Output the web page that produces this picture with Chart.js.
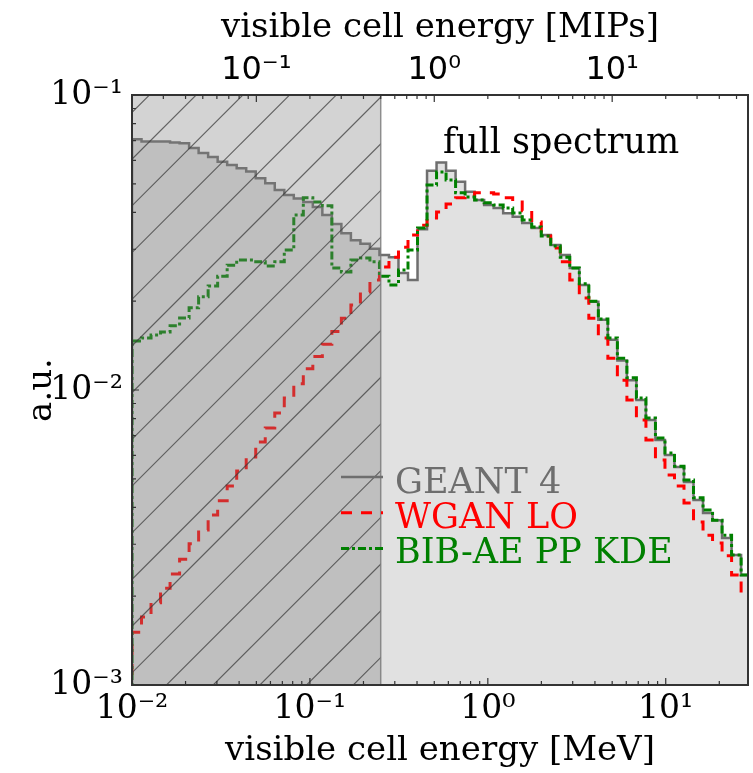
<!DOCTYPE html>
<html>
<head>
<meta charset="utf-8">
<script src="https://cdn.jsdelivr.net/npm/chart.js@4.4.1/dist/chart.umd.min.js"></script>
<style>
  html, body { margin: 0; padding: 0; background: #fff; }
</style>
</head>
<body>
<canvas id="chart" width="753" height="773"></canvas>
<script>
// log-spaced histogram binning in MeV
const binMin = 0.01, binMax = 30, nBins = 65;
const mevPerMip = 0.5;
const cutMeV = 0.25; // hatched region below 0.5 MIP

// bin contents (a.u.), one per bin
const geant4 = [
  0.0708, 0.0695, 0.0695, 0.0695, 0.0690, 0.0686, 0.0661, 0.0636, 0.0616, 0.0594,
  0.0579, 0.0565, 0.0550, 0.0522, 0.0502, 0.0476, 0.0458, 0.0446, 0.0434, 0.0417,
  0.0392, 0.0365, 0.0340, 0.0322, 0.0313, 0.0301, 0.0287, 0.0282, 0.0249, 0.0236,
  0.0351, 0.0554, 0.0590, 0.0554, 0.0508, 0.0470, 0.0441, 0.0424, 0.0414, 0.0397,
  0.0387, 0.0368, 0.0354, 0.0335, 0.0310, 0.0287, 0.0259, 0.0227, 0.0199, 0.0173,
  0.0148, 0.0126, 0.0108, 0.00925, 0.00791, 0.00677, 0.00602, 0.00548, 0.00488, 0.00424,
  0.00383, 0.00362, 0.00315, 0.00276, 0.00236
];
const wganLO = [
  0.00151, 0.00170, 0.00190, 0.00213, 0.00238, 0.00267, 0.00301, 0.00335, 0.00377, 0.00421,
  0.00473, 0.00531, 0.00593, 0.00667, 0.00743, 0.00836, 0.00940, 0.0105, 0.0118, 0.0130,
  0.0143, 0.0158, 0.0175, 0.0194, 0.0215, 0.0236, 0.0261, 0.0282, 0.0305, 0.0335,
  0.0362, 0.0383, 0.0401, 0.0427, 0.0448, 0.0455, 0.0466, 0.0466, 0.0462, 0.0448,
  0.0434, 0.0405, 0.0371, 0.0333, 0.0303, 0.0272, 0.0236, 0.0205, 0.0175, 0.0150,
  0.0128, 0.0108, 0.00925, 0.00791, 0.00677, 0.00579, 0.00515, 0.00473, 0.00414, 0.00357,
  0.00322, 0.00303, 0.00274, 0.00236, 0.00202
];
const bibaeKDE = [
  0.01466, 0.0150, 0.01535, 0.01574, 0.0165, 0.01754, 0.0190, 0.0207, 0.0225, 0.0243,
  0.0265, 0.0276, 0.0276, 0.0272, 0.0263, 0.0272, 0.0298, 0.0392, 0.0448, 0.0434,
  0.0421, 0.0259, 0.0251, 0.0276, 0.0280, 0.0272, 0.0243, 0.0227, 0.0255, 0.0298,
  0.0354, 0.0495, 0.0548, 0.0515, 0.0466, 0.0451, 0.0441, 0.0431, 0.0424, 0.0414,
  0.0398, 0.0377, 0.0357, 0.0333, 0.0308, 0.0282, 0.0259, 0.0229, 0.0200, 0.0174,
  0.0150, 0.0128, 0.0110, 0.00940, 0.00804, 0.00687, 0.00611, 0.00552, 0.00495, 0.00431,
  0.00392, 0.00362, 0.00322, 0.00276, 0.00236
];

const yDecades = [1e-3, 1e-2, 1e-1];
const yTickLabels = ['10⁻³', '10⁻²', '10⁻¹'];
const xDecades = [0.01, 0.1, 1, 10];
const xTickLabels = ['10⁻²', '10⁻¹', '10⁰', '10¹'];
const mipDecades = [0.1, 1, 10];
const mipTickLabels = ['10⁻¹', '10⁰', '10¹'];

const edges = [];
for (let i = 0; i <= nBins; i++) {
  edges.push(binMin * Math.pow(binMax / binMin, i / nBins));
}

// step outline like histtype='step'
function stepPoints(vals) {
  const floor = 1e-5;
  const pts = [{ x: edges[0], y: floor }];
  vals.forEach((v, i) => pts.push({ x: edges[i], y: v }));
  pts.push({ x: edges[vals.length], y: vals[vals.length - 1] });
  pts.push({ x: edges[vals.length], y: floor });
  return pts;
}

function labelFor(decades, labels) {
  return (v) => {
    const i = decades.findIndex((d) => Math.abs(v / d - 1) < 1e-6);
    return i < 0 ? '' : labels[i];
  };
}

const serif = 'DejaVu Serif';

const decor = {
  id: 'decor',
  afterDatasetsDraw(chart) {
    const { ctx, chartArea: a, scales } = chart;
    const xs = scales.x, ys = scales.y, x2 = scales.x2;
    const xc = xs.getPixelForValue(cutMeV);

    // shaded + hatched region below threshold
    ctx.save();
    ctx.fillStyle = 'rgba(128,128,128,0.35)';
    ctx.fillRect(a.left, a.top, xc - a.left, a.bottom - a.top);
    ctx.beginPath();
    ctx.rect(a.left, a.top, xc - a.left, a.bottom - a.top);
    ctx.clip();
    ctx.strokeStyle = 'rgba(60,60,60,0.75)';
    ctx.lineWidth = 1.1;
    const sp = 46.7;
    const c0 = a.left + a.bottom + 34.5;
    for (let k = -20; k < 30; k++) {
      const c = c0 + k * sp; // x + y = c
      ctx.beginPath();
      ctx.moveTo(c - a.bottom, a.bottom);
      ctx.lineTo(c - a.top, a.top);
      ctx.stroke();
    }
    ctx.restore();
    ctx.save();
    ctx.strokeStyle = 'rgba(120,120,120,0.8)';
    ctx.lineWidth = 1.5;
    ctx.beginPath();
    ctx.moveTo(xc, a.top);
    ctx.lineTo(xc, a.bottom);
    ctx.stroke();
    ctx.restore();

    // frame
    ctx.save();
    ctx.strokeStyle = '#333';
    ctx.lineWidth = 2;
    ctx.strokeRect(a.left, a.top, a.right - a.left, a.bottom - a.top);

    // inward tick marks
    ctx.lineWidth = 1.2;
    const marks = (scale, cb) => {
      const lo = Math.floor(Math.log10(scale.min)), hi = Math.ceil(Math.log10(scale.max));
      for (let e = lo; e <= hi; e++) {
        for (let k = 1; k <= 9; k++) {
          const v = k * Math.pow(10, e);
          if (v < scale.min * 0.999 || v > scale.max * 1.001) continue;
          cb(scale.getPixelForValue(v), k === 1 ? 7 : 4);
        }
      }
    };
    ctx.beginPath();
    marks(xs, (p, l) => { ctx.moveTo(p, a.bottom); ctx.lineTo(p, a.bottom - l); });
    marks(x2, (p, l) => { ctx.moveTo(p, a.top); ctx.lineTo(p, a.top + l); });
    marks(ys, (p, l) => { ctx.moveTo(a.left, p); ctx.lineTo(a.left + l, p); });
    ctx.stroke();
    ctx.restore();

    // annotation
    ctx.save();
    ctx.font = '35px "' + serif + '"';
    ctx.fillStyle = '#000';
    ctx.textBaseline = 'alphabetic';
    ctx.fillText('full spectrum', 443, 153);

    // legend: GEANT 4, WGAN LO, BIB-AE PP KDE
    const items = [1, 2, 0].map((i) => chart.data.datasets[i]);
    items.forEach((ds, i) => {
      const y = 477 + i * 35.8;
      ctx.strokeStyle = ds.borderColor;
      ctx.lineWidth = ds.borderWidth;
      ctx.setLineDash(ds.borderDash || []);
      ctx.beginPath();
      ctx.moveTo(341, y);
      ctx.lineTo(383, y);
      ctx.stroke();
      ctx.setLineDash([]);
      ctx.fillStyle = ds.legendColor;
      ctx.fillText(ds.label, 395, 493 + i * 35);
    });
    ctx.restore();
  }
};

new Chart('chart', {
  type: 'line',
  data: {
    datasets: [
      {
        label: 'BIB-AE PP KDE',
        data: stepPoints(bibaeKDE),
        borderColor: '#008000',
        legendColor: '#008000',
        borderWidth: 3,
        borderDash: [8, 3, 3, 3],
        stepped: true,
        pointRadius: 0,
        fill: false,
        order: 1,
      },
      {
        label: 'GEANT 4',
        data: stepPoints(geant4),
        borderColor: '#6e6e6e',
        legendColor: '#6e6e6e',
        backgroundColor: 'rgb(225,225,225)',
        borderWidth: 2.5,
        stepped: true,
        pointRadius: 0,
        fill: 'start',
        order: 3,
      },
      {
        label: 'WGAN LO',
        data: stepPoints(wganLO),
        borderColor: '#ff0000',
        legendColor: '#ff0000',
        borderWidth: 3,
        borderDash: [11, 9],
        stepped: true,
        pointRadius: 0,
        fill: false,
        order: 2,
      },
    ],
  },
  options: {
    responsive: false,
    animation: false,
    devicePixelRatio: 1,
    layout: { padding: { right: 1 } },
    plugins: { legend: { display: false }, tooltip: { enabled: false } },
    scales: {
      x: {
        type: 'logarithmic',
        position: 'bottom',
        min: 0.01,
        max: 29,
        grid: { display: false, drawTicks: false },
        border: { display: false },
        ticks: {
          autoSkip: false,
          maxRotation: 0,
          padding: 5,
          color: '#000',
          font: { family: serif, size: 33 },
          callback: labelFor(xDecades, xTickLabels),
        },
        title: {
          display: true,
          text: 'visible cell energy [MeV]',
          color: '#000',
          font: { family: serif, size: 34 },
          padding: { top: 0, bottom: 1.5 },
        },
        afterFit: (s) => { s.height = 88; },
      },
      x2: {
        type: 'logarithmic',
        position: 'top',
        min: 0.01 / mevPerMip,
        max: 29 / mevPerMip,
        grid: { display: false, drawTicks: false },
        border: { display: false },
        ticks: {
          autoSkip: false,
          maxRotation: 0,
          padding: 5,
          color: '#000',
          font: { family: 'DejaVu Sans', size: 32 },
          callback: labelFor(mipDecades, mipTickLabels),
        },
        title: {
          display: true,
          text: 'visible cell energy [MIPs]',
          color: '#000',
          font: { family: serif, size: 34 },
          padding: { top: 8, bottom: 0 },
        },
        afterFit: (s) => { s.height = 95; },
      },
      y: {
        type: 'logarithmic',
        min: 1e-3,
        max: 1e-1,
        grid: { display: false, drawTicks: false },
        border: { display: false },
        ticks: {
          autoSkip: false,
          padding: 9,
          color: '#000',
          font: { family: serif, size: 33 },
          callback: labelFor(yDecades, yTickLabels),
        },
        title: {
          display: true,
          text: 'a.u.',
          color: '#000',
          font: { family: serif, size: 34 },
          padding: { top: 21.5, bottom: 0 },
        },
        afterFit: (s) => { s.width = 132; },
      },
    },
  },
  plugins: [decor],
});
</script>
</body>
</html>
